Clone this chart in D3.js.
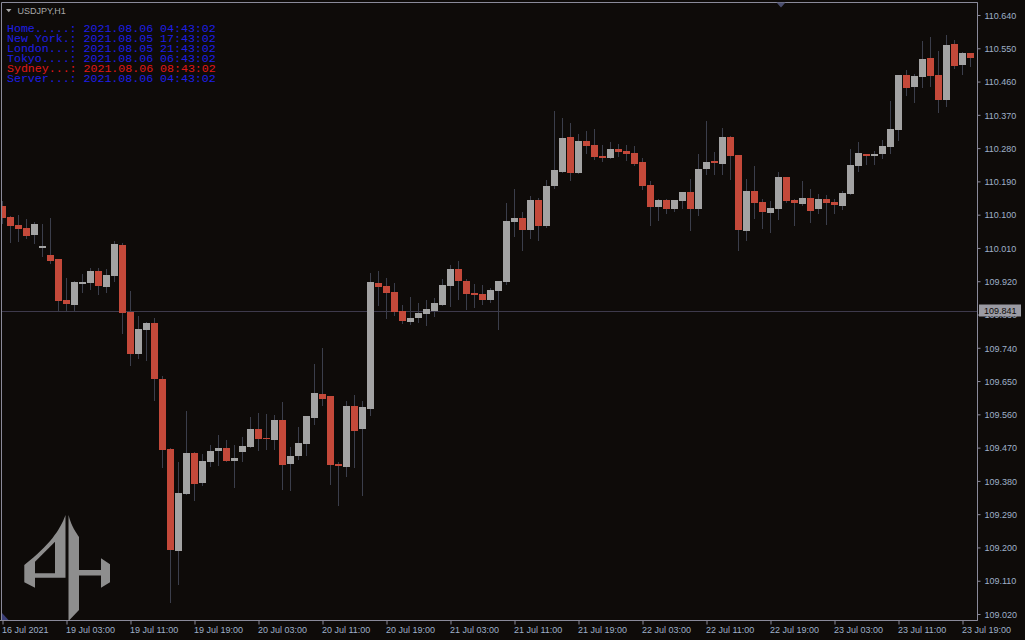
<!DOCTYPE html>
<html>
<head>
<meta charset="utf-8">
<script src="https://cdn.jsdelivr.net/npm/d3@7"></script>
<style>
  html, body { margin: 0; padding: 0; background: #0e0b09; }
  svg { display: block; }
</style>
</head>
<body>
<svg id="chart" width="1025" height="640"></svg>
<script>
// ---------- DATA (USDJPY, H1) ----------
const timeLabels = ["16 Jul 2021","19 Jul 03:00","19 Jul 11:00","19 Jul 19:00","20 Jul 03:00","20 Jul 11:00",
  "20 Jul 19:00","21 Jul 03:00","21 Jul 11:00","21 Jul 19:00","22 Jul 03:00","22 Jul 11:00",
  "22 Jul 19:00","23 Jul 03:00","23 Jul 11:00","23 Jul 19:00"];
const timeLabelBars = [0,8,16,24,32,40,48,56,64,72,80,88,96,104,112,120];
const priceTicks = [109.020,109.110,109.200,109.290,109.380,109.470,109.560,109.650,109.740,109.830,
  109.920,110.010,110.100,110.190,110.280,110.370,110.460,110.550,110.640];
const currentLevel = 109.841;

const open = [110.124,110.094,110.072,110.064,110.046,110.011,109.991,109.980,109.869,109.857,
  109.913,109.915,109.948,109.905,109.935,110.018,109.837,109.724,109.789,109.807,
  109.656,109.466,109.191,109.345,109.456,109.375,109.432,109.462,109.469,109.435,
  109.459,109.473,109.520,109.497,109.491,109.545,109.427,109.448,109.481,109.551,
  109.615,109.610,109.426,109.418,109.583,109.519,109.575,109.915,109.907,109.891,
  109.840,109.811,109.821,109.832,109.840,109.856,109.908,109.953,109.921,109.888,
  109.886,109.870,109.894,109.918,110.080,110.091,110.059,110.140,110.069,110.178,
  110.216,110.310,110.213,110.299,110.289,110.259,110.253,110.278,110.272,110.267,
  110.242,110.180,110.121,110.140,110.115,110.137,110.161,110.115,110.224,110.245,
  110.237,110.310,110.262,110.056,110.164,110.134,110.104,110.115,110.202,110.140,
  110.129,110.145,110.115,110.142,110.134,110.124,110.156,110.232,110.264,110.259,
  110.264,110.283,110.329,110.478,110.445,110.472,110.524,110.478,110.410,110.562,
  110.505,110.537];
const high = [110.137,110.096,110.099,110.088,110.080,110.075,110.091,109.980,109.929,109.921,
  109.940,109.956,109.956,109.953,110.029,110.024,109.894,109.826,109.810,109.821,
  109.664,109.469,109.431,109.569,109.458,109.453,109.477,109.504,109.491,109.477,
  109.499,109.553,109.564,109.561,109.558,109.593,109.472,109.526,109.556,109.696,
  109.740,109.610,109.431,109.596,109.612,109.596,109.942,109.948,109.929,109.915,
  109.856,109.877,109.861,109.869,109.875,109.926,109.964,109.975,109.926,109.913,
  109.910,109.902,109.921,110.132,110.170,110.107,110.151,110.145,110.194,110.381,
  110.362,110.348,110.318,110.326,110.332,110.289,110.297,110.291,110.289,110.286,
  110.253,110.191,110.142,110.142,110.140,110.161,110.197,110.264,110.353,110.270,
  110.334,110.313,110.262,110.197,110.232,110.142,110.137,110.216,110.202,110.142,
  110.191,110.170,110.156,110.153,110.142,110.164,110.278,110.297,110.264,110.272,
  110.302,110.408,110.478,110.491,110.481,110.570,110.581,110.543,110.586,110.572,
  110.540,110.537];
const low = [110.078,110.027,110.030,110.038,110.024,109.989,109.970,109.840,109.840,109.840,
  109.892,109.900,109.886,109.892,109.921,109.779,109.694,109.713,109.708,109.600,
  109.418,109.053,109.102,109.345,109.329,109.370,109.421,109.424,109.435,109.364,
  109.435,109.473,109.464,109.467,109.467,109.359,109.356,109.440,109.451,109.535,
  109.586,109.372,109.316,109.394,109.418,109.343,109.559,109.857,109.821,109.830,
  109.808,109.805,109.811,109.802,109.827,109.856,109.854,109.872,109.846,109.851,
  109.859,109.865,109.792,109.913,110.042,110.005,110.037,110.032,110.067,110.172,
  110.216,110.194,110.213,110.267,110.251,110.245,110.253,110.259,110.248,110.234,
  110.170,110.072,110.086,110.104,110.110,110.118,110.059,110.099,110.210,110.210,
  110.210,110.197,110.005,110.032,110.091,110.064,110.053,110.088,110.134,110.072,
  110.126,110.080,110.104,110.075,110.104,110.115,110.156,110.218,110.237,110.237,
  110.253,110.267,110.302,110.424,110.405,110.445,110.448,110.378,110.394,110.497,
  110.481,110.502];
const close = [110.092,110.070,110.061,110.043,110.075,110.015,109.976,109.867,109.859,109.918,
  109.918,109.948,109.908,109.937,110.021,109.835,109.724,109.791,109.807,109.656,
  109.464,109.194,109.348,109.456,109.372,109.434,109.461,109.469,109.435,109.442,
  109.474,109.520,109.494,109.494,109.545,109.424,109.447,109.483,109.556,109.618,
  109.602,109.424,109.421,109.583,109.516,109.580,109.918,109.905,109.889,109.838,
  109.813,109.821,109.834,109.845,109.861,109.910,109.953,109.921,109.886,109.883,
  109.870,109.896,109.921,110.083,110.091,110.059,110.140,110.069,110.178,110.221,
  110.307,110.213,110.299,110.286,110.256,110.253,110.278,110.270,110.264,110.237,
  110.178,110.121,110.140,110.115,110.140,110.161,110.115,110.224,110.242,110.240,
  110.310,110.259,110.059,110.164,110.132,110.107,110.118,110.202,110.137,110.132,
  110.145,110.110,110.142,110.132,110.126,110.159,110.234,110.267,110.259,110.264,
  110.286,110.332,110.478,110.443,110.475,110.521,110.475,110.410,110.559,110.502,
  110.537,110.524];

const infoLabels = ["Home.....:","New York.:","London...:","Tokyo....:","Sydney...:","Server...:"];
const infoTimes = ["2021.08.06 04:43:02","2021.08.05 17:43:02","2021.08.05 21:43:02",
  "2021.08.06 06:43:02","2021.08.06 08:43:02","2021.08.06 04:43:02"];
const infoHighlight = [false,false,false,false,true,false];
const symbolTitle = "USDJPY,H1";

// ---------- DRAW ----------
const W = 1025, H = 640;
const plotRight = 977, plotBottom = 620;
const bg = "#0e0b09", bull = "#a3a3a3", bear = "#c4493a", wickCol = "#3b3e4b";
const axisCol = "#8a8a9a", labelCol = "#9fb0c8";

const svg = d3.select("#chart");
svg.append("rect").attr("width", W).attr("height", H).attr("fill", bg);

const bars = open.map((o, i) => ({ i, o, h: high[i], l: low[i], c: close[i] }));
const x = d3.scaleLinear().domain([0, bars.length - 1]).range([2.5, 2.5 + 8 * (bars.length - 1)]);
const y = d3.scaleLinear().domain([109.020, 110.640]).range([614, 15]);

const plot = svg.append("g");
plot.append("clipPath").attr("id", "clip").append("rect")
  .attr("x", 1.5).attr("y", 2.5).attr("width", plotRight - 1.5).attr("height", plotBottom - 2.5);
const g = plot.append("g").attr("clip-path", "url(#clip)");

// level line
const ly = Math.ceil(y(currentLevel)) + 0.5;
g.append("line").attr("x1", 0).attr("x2", plotRight).attr("y1", ly).attr("y2", ly)
  .attr("stroke", "#3e3a4c").attr("stroke-width", 1);

// wicks
g.selectAll("line.wick").data(bars).join("line").attr("class", "wick")
  .attr("x1", d => x(d.i)).attr("x2", d => x(d.i))
  .attr("y1", d => Math.round(y(d.h))).attr("y2", d => Math.round(y(d.l)) + 1)
  .attr("stroke", wickCol).attr("stroke-width", 1);

// bodies
g.selectAll("rect.body").data(bars).join("rect").attr("class", "body")
  .attr("x", d => x(d.i) - 3.5).attr("width", 7)
  .attr("y", d => Math.round(y(Math.max(d.o, d.c))))
  .attr("height", d => Math.max(1, Math.round(y(Math.min(d.o, d.c))) - Math.round(y(Math.max(d.o, d.c)))))
  .attr("fill", d => d.c >= d.o ? bull : bear);

// logo watermark
const logo = svg.append("g").attr("fill", "#8e8e8e");
logo.append("path").attr("fill-rule", "evenodd")
  .attr("d", "M65.5,515 C60,530 50,545 24.3,565 L24.3,582.3 L35,587.7 L35,577.7 L65.5,577.7 Z " +
             "M35,561.7 L55,541.7 L55,573.3 L35,573.3 Z");
logo.append("path").attr("d", "M68.5,515 C72,528 76,532 79,537 L79,570 L101,570 L101,558.3 L110,564.3 L110,582.3 L101,587.7 L101,575.5 L79,575.5 L79,610 L68.5,621 Z");

// frame
svg.append("path").attr("d", `M1.5,${plotBottom + 0.5} V2.5 H${plotRight + 0.5} V${plotBottom + 0.5}`)
  .attr("fill", "none").attr("stroke", axisCol).attr("stroke-width", 1);

// right axis
const yAxis = d3.axisRight(y).tickValues(priceTicks).tickSize(3).tickPadding(4)
  .tickFormat(d3.format(".3f"));
const ya = svg.append("g").attr("transform", `translate(${plotRight + 0.5},0)`).call(yAxis);
ya.select(".domain").attr("stroke", axisCol).attr("d", `M0,2.5 V${plotBottom + 0.5}`);
ya.selectAll(".tick line").attr("stroke", axisCol);
ya.selectAll(".tick text").attr("fill", labelCol).attr("font-family", "'Liberation Sans', Arial, sans-serif")
  .attr("font-size", "9px").attr("dy", "0.36em");

// bottom axis
const xAxis = d3.axisBottom(x).tickValues(timeLabelBars).tickSize(4).tickPadding(2)
  .tickFormat((d, k) => timeLabels[k]);
const xa = svg.append("g").attr("transform", `translate(0,${plotBottom + 0.5})`).call(xAxis);
xa.select(".domain").attr("stroke", axisCol).attr("d", `M0,0 H${plotRight + 0.5}`);
xa.selectAll(".tick line").attr("stroke", axisCol);
xa.selectAll(".tick text").attr("fill", labelCol).attr("font-family", "'Liberation Sans', Arial, sans-serif")
  .attr("font-size", "9px").attr("text-anchor", "start").attr("x", -1);

// current level price box
const by = y(currentLevel);
svg.append("rect").attr("x", 979).attr("y", Math.round(by) - 5.5).attr("width", 42).attr("height", 12)
  .attr("fill", "#9b9ba3");
svg.append("text").attr("x", 984).attr("y", Math.round(by) + 4).text(d3.format(".3f")(currentLevel))
  .attr("fill", "#0e0b09").attr("font-family", "'Liberation Sans', Arial, sans-serif").attr("font-size", "9px");

// markers
svg.append("path").attr("d", "M776.5,2.5 L785.5,2.5 L781,7.5 Z").attr("fill", "#4a4e6e");
svg.append("path").attr("d", "M2,613 L2,620 L8.5,620 Z").attr("fill", "#3c3f78");

// title
svg.append("path").attr("d", "M6,9 L11.5,9 L8.75,12.3 Z").attr("fill", "#a8a8a8");
svg.append("text").attr("x", 17.5).attr("y", 13.5).text(symbolTitle)
  .attr("fill", "#a8a8a8").attr("font-family", "'Liberation Sans', Arial, sans-serif").attr("font-size", "9px");

// info block
const info = svg.append("g").attr("font-family", "'Liberation Mono', 'Courier New', monospace")
  .attr("font-size", "11.6px");
infoLabels.forEach((lab, k) => {
  info.append("text").attr("x", 7).attr("y", 31.5 + 10 * k)
    .attr("fill", infoHighlight[k] ? "#e01818" : "#1e1ee6")
    .attr("xml:space", "preserve").style("white-space", "pre")
    .text(lab + " " + infoTimes[k]);
});
</script>
</body>
</html>
